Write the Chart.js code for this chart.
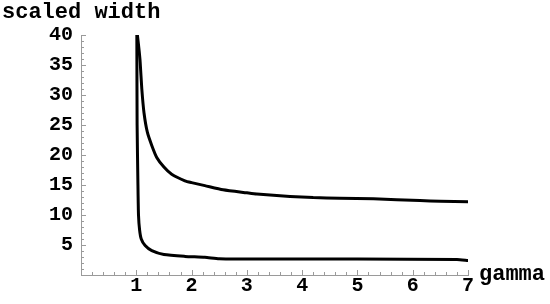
<!DOCTYPE html>
<html>
<head>
<meta charset="utf-8">
<script src="https://cdn.jsdelivr.net/npm/chart.js@4/dist/chart.umd.min.js"></script>
<style>
  html, body { margin: 0; padding: 0; background: #fff; }
  #wrap { width: 550px; height: 304px; }
</style>
</head>
<body>
<div id="wrap"><canvas id="widthChart"></canvas></div>
<script>
// Valores
const gammaUpper = [1.02, 1.05, 1.07, 1.10, 1.14, 1.20, 1.28, 1.37, 1.50, 1.64, 1.88, 2.00, 2.24, 2.57, 3.00, 3.18, 3.78, 4.20, 4.68, 5.29, 6.13, 6.50, 7.00];
const widthUpper = [40.0, 37.5, 35.5, 31.0, 27.0, 23.8, 21.6, 19.6, 18.0, 16.8, 15.7, 15.4, 14.9, 14.2, 13.7, 13.5, 13.1, 12.9, 12.8, 12.7, 12.4, 12.3, 12.2];

const gammaLower = [1.01, 1.015, 1.03, 1.04, 1.06, 1.09, 1.16, 1.28, 1.50, 1.88, 2.24, 2.50, 3.00, 5.00, 6.80, 7.00];
const widthLower = [40.0, 25.0, 15.0, 10.0, 7.5, 6.0, 4.9, 4.05, 3.4, 3.1, 2.95, 2.7, 2.65, 2.65, 2.6, 2.4];

const xTicks = [1, 2, 3, 4, 5, 6, 7];
const yTicks = [5, 10, 15, 20, 25, 30, 35, 40];

const xTitle = 'gamma';
const yTitle = 'scaled width';

const axisColor = '#9a9a9a';
const fontFamily = '"Liberation Mono", "Courier New", monospace';

function toPoints(xs, ys) {
    return xs.map((v, i) => ({ x: v, y: ys[i] }));
}

// Marcas de escala por dentro, como no Mathematica
const innerTicks = {
    id: 'innerTicks',
    afterDraw(chart) {
        const { ctx, scales: { x, y } } = chart;
        ctx.save();
        ctx.strokeStyle = axisColor;
        ctx.lineWidth = 1;
        ctx.beginPath();
        for (let i = 1; i <= 35; i++) {
            const px = Math.round(x.getPixelForValue(i * 0.2)) + 0.5;
            const len = i % 5 === 0 ? 5 : 3;
            ctx.moveTo(px, y.bottom);
            ctx.lineTo(px, y.bottom - len);
        }
        for (let j = 1; j <= 40; j++) {
            const py = Math.round(y.getPixelForValue(j)) + 0.5;
            const len = j % 5 === 0 ? 5 : 3;
            ctx.moveTo(x.left, py);
            ctx.lineTo(x.left + len, py);
        }
        ctx.stroke();

        ctx.fillStyle = '#000';
        ctx.font = 'bold 22px ' + fontFamily;
        ctx.textAlign = 'left';
        ctx.textBaseline = 'alphabetic';
        ctx.fillText(yTitle, 2, chart.chartArea.top - 17);
        ctx.fillText(xTitle, chart.chartArea.right + 11, chart.chartArea.bottom + 5);
        ctx.restore();
    }
};

document.addEventListener('DOMContentLoaded', function() {
    const ctx = document.getElementById('widthChart');
    const lineStyle = {
        borderColor: '#000',
        borderWidth: 3,
        pointRadius: 0,
        fill: false,
        tension: 0.2,
        borderJoinStyle: 'round',
        borderCapStyle: 'round'
    };

    new Chart(ctx, {
        type: 'line',
        data: {
            datasets: [
                Object.assign({ label: 'upper', data: toPoints(gammaUpper, widthUpper) }, lineStyle),
                Object.assign({ label: 'lower', data: toPoints(gammaLower, widthLower) }, lineStyle)
            ]
        },
        options: {
            responsive: true,
            maintainAspectRatio: false,
            animation: false,
            layout: { padding: { top: 35, right: 82, left: 0, bottom: 0 } },
            plugins: { legend: { display: false }, tooltip: { enabled: false } },
            scales: {
                x: {
                    type: 'linear',
                    min: 0,
                    max: 7,
                    afterFit: s => { s.height = 29; },
                    afterBuildTicks: s => { s.ticks = xTicks.map(v => ({ value: v })); },
                    grid: { display: false, drawTicks: false },
                    border: { display: true, color: axisColor, width: 1 },
                    ticks: {
                        color: '#000',
                        padding: -1,
                        maxRotation: 0,
                        font: { family: fontFamily, size: 20, weight: 'bold' }
                    }
                },
                y: {
                    type: 'linear',
                    min: 0,
                    max: 40,
                    afterFit: s => { s.width = 81; },
                    afterBuildTicks: s => { s.ticks = yTicks.map(v => ({ value: v })); },
                    grid: { display: false, drawTicks: false },
                    border: { display: true, color: axisColor, width: 1 },
                    ticks: {
                        color: '#000',
                        padding: 8,
                        font: { family: fontFamily, size: 20, weight: 'bold' }
                    }
                }
            }
        },
        plugins: [innerTicks]
    });
});
</script>
</body>
</html>
